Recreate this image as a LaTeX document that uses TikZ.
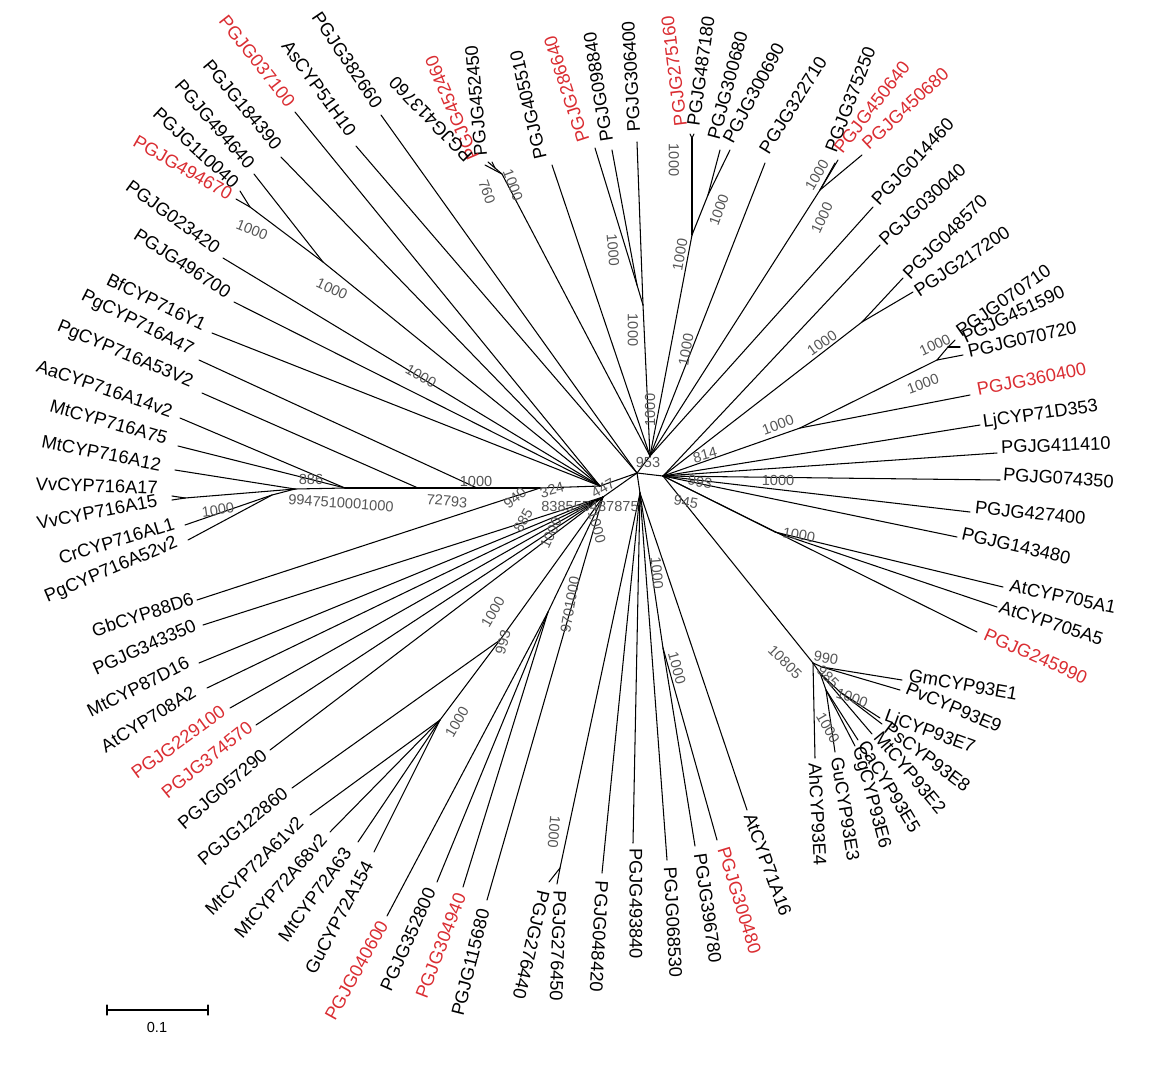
\documentclass[tikz,border=0pt]{standalone}
\usepackage{fontspec}
\setmainfont{Liberation Sans}
\definecolor{treered}{RGB}{218,45,50}
\definecolor{bootgray}{RGB}{85,85,85}

\begin{document}
\begin{tikzpicture}[
    x=0.02cm, y=-0.02cm,
    leaf/.style={font=\fontsize{10.4}{12}\selectfont, inner sep=0.5pt},
    boot/.style={font=\fontsize{8.3}{10}\selectfont, text=bootgray, inner sep=0pt},
    branch/.style={line width=0.6pt, line cap=round}
]
\useasboundingbox (0,0) rectangle (1170,1080);

% internal nodes
\coordinate (C) at (637,473);
\coordinate (hL) at (600,486);
\coordinate (hT) at (650,456);
\coordinate (hR) at (663,476);
\coordinate (hB) at (640,493);
\coordinate (hBL) at (603,497);
\coordinate (s0) at (295,489);
\coordinate (s1) at (345,488);
\coordinate (s2) at (418,488);
\coordinate (s3) at (477,488);
\coordinate (s4) at (540,488);
\coordinate (vv) at (185,498);
\coordinate (cr) at (272,495);
\coordinate (i0) at (250,207);
\coordinate (i1) at (323,262);
\coordinate (i2a) at (495,168);
\coordinate (i2) at (502,174);
\coordinate (i3a) at (637,285);
\coordinate (i3b) at (643,305);
\coordinate (i5a) at (692,138);
\coordinate (i5b) at (708,195);
\coordinate (i5) at (692,235);
\coordinate (i7) at (820,190);
\coordinate (i8) at (862,322);
\coordinate (i9a) at (948,347);
\coordinate (i9) at (937,360);
\coordinate (i10) at (800,428);
\coordinate (i705) at (775,532);
\coordinate (n93) at (813,663);
\coordinate (s93a) at (822,667);
\coordinate (s93b) at (820,673);
\coordinate (s93c) at (840,692);
\coordinate (s93d) at (826,690);
\coordinate (i11) at (663,648);
\coordinate (i12) at (560,868);
\coordinate (n72) at (440,720);
\coordinate (n72b) at (500,640);
\coordinate (iB1) at (548,612);

% inner branches
\foreach \a/\b in {hL/C, hT/C, hR/C, hB/C, hBL/C, s0/s1, s1/s2, s2/s3, s3/s4, s4/hL,
    vv/s0, cr/s0, i0/i1, i1/hL, i2a/i2, i2/hT, i3a/i3b, i3b/hT, i5a/i5, i5b/i5, i5/hT,
    i7/hT, i8/hR, i9a/i9, i9/i10, i10/hR, i705/hR, n93/hR, s93a/n93, s93b/n93,
    s93c/s93b, s93d/s93b, i11/hB, i12/hB, n72/n72b, n72b/hBL, iB1/hBL}
  \draw[branch] (\a) -- (\b);

% leaves
\foreach \nm/\tx/\ty/\src/\lx/\ly/\ang/\anc/\col/\lab in {
  a037100/295/112/hL/292/106/-52/east/treered/PGJG037100,
  a51h10/356/146/C/353/135/-54/east/black/AsCYP51H10,
  a382660/381/115/C/379/107/-56/east/black/PGJG382660,
  a184390/281/157/hL/279/148/-50/east/black/PGJG184390,
  a494640/254/174/i1/252/167/-49/east/black/PGJG494640,
  a110040/240/191/i0/237/186/-43/east/black/PGJG110040,
  a494670/236/199/i0/232/196/-30/east/treered/PGJG494670,
  a023420/223/258/hL/219/250/-36/east/black/PGJG023420,
  a496700/234/302/hL/230/294/-33/east/black/PGJG496700,
  bf716y1/212/333/hL/206/326/-26/east/black/BfCYP716Y1,
  pg716a47/199/360/s3/193/352/-27/east/black/PgCYP716A47,
  pg716a53/202/393/s2/193/384/-23/east/black/PgCYP716A53V2,
  aa716a14/180/418/s1/173/412/-19/east/black/AaCYP716A14v2,
  mt716a75/178/446/s1/168/439/-16/east/black/MtCYP716A75,
  mt716a12/175/470/s0/162/465/-11/east/black/MtCYP716A12,
  vv716a17/172/496/vv/159/488/-2/east/black/VvCYP716A17,
  vv716a15/172/500/vv/158/500/11/east/black/VvCYP716A15,
  cr716al1/185/525/cr/175/523/17/east/black/CrCYP716AL1,
  pg716a52/188/540/cr/178/542/23/east/black/PgCYP716A52v2,
  gb88d6/197/600/s4/194/598/18/east/black/GbCYP88D6,
  a343350/203/625/hBL/196/624/24/east/black/PGJG343350,
  mt87d16/199/663/hBL/189/661/27/east/black/MtCYP87D16,
  at708a2/207/688/hBL/195/690/32/east/black/AtCYP708A2,
  a229100/230/708/hBL/224/709/36/east/treered/PGJG229100,
  a374570/256/725/hBL/251/724/39/east/treered/PGJG374570,
  a057290/270/750/hBL/265/752/41/east/black/PGJG057290,
  a122860/292/788/n72b/286/790/40/east/black/PGJG122860,
  mt72a61/310/815/n72/301/819/45/east/black/MtCYP72A61v2,
  mt72a68/330/832/n72/324/836/49/east/black/MtCYP72A68v2,
  mt72a63/358/842/n72/348/849/54/east/black/MtCYP72A63,
  gu72a154/374/852/n72/369/861/62/east/black/GuCYP72A154,
  a040600/387/916/iB1/384/921/61/east/treered/PGJG040600,
  a352800/437/882/iB1/431/888/66/east/black/PGJG352800,
  a304940/463/887/iB1/461/893/69/east/treered/PGJG304940,
  a115680/487/900/hBL/484/908/76/east/black/PGJG115680,
  a276440/549/882/i12/544/890/-103/west/black/PGJG276440,
  a276450/557/884/i12/560/889/-92/west/black/PGJG276450,
  a048420/602/873/hB/602/880/-93/west/black/PGJG048420,
  a493840/633/843/hB/636/847/-90/west/black/PGJG493840,
  a068530/667/860/hB/670/866/-87/west/black/PGJG068530,
  a396780/695/846/i11/700/852/-82/west/black/PGJG396780,
  a300480/717/840/i11/723/846/-73/west/treered/PGJG300480,
  at71a16/747/810/hB/749/813/-70/west/black/AtCYP71A16,
  ah93e4/815/758/n93/815/762/-87/west/black/AhCYP93E4,
  gu93e3/835/752/s93d/837/756/-81/west/black/GuCYP93E3,
  gg93e6/855/746/s93d/857/746/-75/west/black/GgCYP93E6,
  ca93e5/858/740/s93d/862/741/-59/west/black/CaCYP93E5,
  mt93e2/872/734/s93b/877/733/-50/west/black/MtCYP93E2,
  ps93e8/882/724/s93c/886/726/-37/west/black/PsCYP93E8,
  lj93e7/880/718/s93c/884/716/-20/west/black/LjCYP93E7,
  pv93e9/900/690/s93a/906/687/-23/west/black/PvCYP93E9,
  gm93e1/902/680/s93a/908/675/-10/west/black/GmCYP93E1,
  a245990/977/632/hR/984/633/-24/west/treered/PGJG245990,
  at705a5/997/607/i705/999/606/-18/west/black/AtCYP705A5,
  at705a1/1003/587/i705/1009/585/-12/west/black/AtCYP705A1,
  a143480/957/537/hR/961/533/-13/west/black/PGJG143480,
  a427400/970/512/hR/974/507/-6/west/black/PGJG427400,
  a074350/1000/480/hR/1002/474/-4/west/black/PGJG074350,
  a411410/997/453/hR/1000/447/2/west/black/PGJG411410,
  lj71d353/980/425/hR/982/423/8/west/black/LjCYP71D353,
  a360400/970/395/i10/976/390/11/west/treered/PGJG360400,
  a070720/963/355/i9/967/352/13/west/black/PGJG070720,
  a451590/960/347/i9a/962/338/25/west/black/PGJG451590,
  a070710/955/340/i9a/957/333/35/west/black/PGJG070710,
  a217200/913/292/i8/915/293/34/west/black/PGJG217200,
  a048570/903/278/i8/905/277/45/west/black/PGJG048570,
  a030040/880/245/hR/881/243/43/west/black/PGJG030040,
  a014460/873/207/hT/874/203/47/west/black/PGJG014460,
  a450680/862/155/i7/864/147/43/west/treered/PGJG450680,
  a450640/838/160/i7/837/152/52/west/treered/PGJG450640,
  a375250/835/163/i7/830/152/69/west/black/PGJG375250,
  a322710/765/163/hT/763/153/58/west/black/PGJG322710,
  a300690/730/150/i5b/727/143/62/west/black/PGJG300690,
  a300680/720/150/i5b/713/140/75/west/black/PGJG300680,
  a487180/694/134/i5a/693/127/82/west/black/PGJG487180,
  a275160/690/134/i5a/681/127/97/west/treered/PGJG275160,
  a306400/637/142/i3b/634/133/93/west/black/PGJG306400,
  a098840/612/150/i3a/607/143/99/west/black/PGJG098840,
  a286640/595/148/i3a/584/143/108/west/treered/PGJG286640,
  a405510/552/165/hT/541/160/103/west/black/PGJG405510,
  a452450/492/162/i2a/481/157/95/west/black/PGJG452450,
  a452460/488/162/i2a/474/160/113/west/treered/PGJG452460,
  a413760/485/165/i2/470/160/134/west/black/PGJG413760}
{
  \coordinate (t-\nm) at (\tx,\ty);
  \node[leaf, text=\col, rotate=\ang, anchor=\anc] (l-\nm) at (\lx,\ly) {\lab};
  \draw[branch] (\src) -- (t-\nm);
}

% bootstrap values
\foreach \bx/\by/\ang/\val [count=\k] in {
  252/230/-22/1000, 332/289/-25/1000, 421/376/-30/1000, 476/481/0/1000,
  447/501/-5/72793, 311/479/0/886, 341/503/-4/9947510001000, 218/510/8/1000,
  515/498/40/940, 552/490/15/324, 551/533/65/1000, 523/520/60/885,
  597/527/-75/1000, 590/506/0/838555487875, 603/488/30/447, 648/462/0/953,
  705/455/15/814, 700/482/-10/993, 686/502/-10/945, 778/480/0/1000,
  778/425/20/1000, 799/535/-10/1000, 657/573/-85/1000, 570/605/80/9701000,
  493/612/60/1000, 503/642/75/993, 457/722/60/1000, 677/668/-75/1000,
  785/662/-45/10805, 826/658/-10/990, 852/698/-20/1000, 828/677/-45/985,
  828/728/-60/1000, 554/832/-95/1000, 674/160/-90/1000, 719/210/70/1000,
  680/255/80/1000, 613/250/-85/1000, 513/185/-70/1000, 487/192/-70/760,
  633/330/-90/1000, 686/350/80/1000, 650/410/90/1000, 817/175/60/1000,
  822/218/65/1000, 822/343/35/1000, 935/345/25/1000, 923/384/20/1000}
  \node[boot, rotate=\ang] (b\k) at (\bx,\by) {\val};

% scale bar
\coordinate (sb1) at (107,1010);
\coordinate (sb2) at (208,1010);
\draw[branch] (sb1) -- (sb2);
\draw[branch] (sb1) ++(0,-5) -- ++(0,10);
\draw[branch] (sb2) ++(0,-5) -- ++(0,10);
\node[boot, text=black] (sblab) at (157,1027) {0.1};
\end{tikzpicture}
\end{document}
